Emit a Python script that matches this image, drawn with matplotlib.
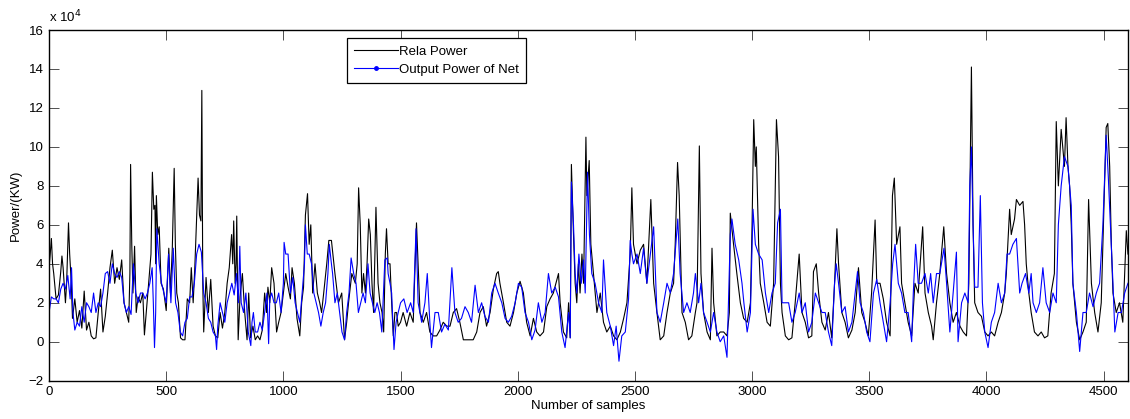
import numpy as np
import matplotlib
matplotlib.use("Agg")
import matplotlib.pyplot as plt
from matplotlib.lines import Line2D

plt.rcParams['font.family'] = ['Liberation Sans', 'DejaVu Sans']

# (sample index, power in 1e4 kW)
rela_power = [
    (0, 3.8), (5, 4.5), (10, 5.3), (15, 4.0), (20, 3.5), (30, 2.2), (40, 2.4), (50, 3.6), (55, 4.4), (60, 3.8),
    (70, 2.0), (75, 3.0), (83, 6.1), (88, 4.5), (95, 3.0), (100, 1.2), (110, 2.2), (120, 1.0), (130, 1.6), (140, 0.7),
    (150, 2.6), (160, 0.6), (170, 1.0), (180, 0.3), (190, 0.15), (200, 0.2), (210, 1.5), (220, 2.7), (230, 0.5), (240, 1.3),
    (250, 2.5), (260, 3.8), (270, 4.7), (280, 3.0), (290, 3.8), (300, 3.2), (310, 4.2), (320, 2.0), (330, 1.5), (340, 1.0),
    (345, 3.5), (348, 9.1), (353, 5.0), (358, 2.5), (365, 4.9), (372, 1.5), (380, 2.3), (390, 2.0), (400, 2.5), (407, 0.35),
    (415, 1.5), (425, 3.0), (435, 4.5), (441, 8.7), (447, 6.8), (452, 7.0), (455, 4.0), (458, 7.5), (464, 5.5), (470, 5.9),
    (478, 3.0), (488, 2.7), (500, 1.6), (511, 4.8), (518, 2.5), (526, 4.8), (534, 8.9), (539, 5.0), (545, 2.5), (552, 2.0),
    (561, 0.2), (570, 0.1), (580, 0.1), (590, 2.2), (600, 2.0), (607, 3.8), (615, 2.0), (622, 3.8), (630, 6.5), (636, 8.4),
    (642, 6.5), (648, 6.2), (652, 12.9), (656, 3.0), (660, 0.5), (670, 3.3), (680, 1.5), (690, 3.2), (700, 0.8), (710, 0.3),
    (720, 0.2), (730, 1.5), (740, 0.7), (750, 1.5), (760, 3.0), (769, 3.8), (779, 5.5), (784, 4.0), (788, 6.2), (794, 3.0),
    (798, 4.0), (801, 6.45), (804, 3.5), (807, 0.1), (815, 2.3), (825, 3.5), (835, 1.5), (845, 0.1), (852, 2.5), (860, 0.2),
    (870, 0.8), (880, 0.1), (890, 0.3), (900, 0.1), (910, 0.6), (920, 2.5), (928, 1.5), (934, 2.8), (942, 2.0), (950, 3.8),
    (960, 3.0), (971, 0.5), (980, 1.0), (990, 1.5), (1000, 2.5), (1010, 3.5), (1020, 2.8), (1030, 2.2), (1037, 3.8), (1047, 3.0),
    (1058, 1.2), (1070, 0.3), (1078, 2.0), (1086, 2.8), (1094, 6.5), (1103, 7.6), (1110, 5.0), (1117, 6.0), (1125, 2.5), (1135, 4.0),
    (1145, 2.5), (1155, 2.0), (1163, 1.5), (1172, 2.5), (1185, 4.0), (1194, 5.2), (1205, 5.2), (1220, 3.5), (1235, 2.0), (1249, 2.5),
    (1261, 0.1), (1270, 1.0), (1278, 2.0), (1292, 3.5), (1307, 3.0), (1315, 4.0), (1321, 7.9), (1328, 6.0), (1335, 2.5), (1342, 3.5),
    (1350, 2.5), (1357, 4.0), (1364, 6.3), (1371, 5.5), (1378, 3.0), (1385, 1.5), (1395, 6.9), (1404, 3.0), (1412, 2.0), (1421, 1.5),
    (1428, 0.5), (1435, 4.5), (1440, 5.8), (1447, 4.0), (1455, 4.0), (1462, 2.0), (1469, 0.3), (1476, 1.5), (1483, 1.5), (1490, 0.8),
    (1500, 1.0), (1511, 1.5), (1526, 0.8), (1540, 1.5), (1554, 1.0), (1568, 6.1), (1575, 3.9), (1583, 1.5), (1597, 1.0), (1611, 1.5),
    (1625, 0.5), (1639, 0.3), (1654, 0.3), (1668, 0.6), (1682, 1.0), (1697, 0.8), (1711, 0.8), (1725, 1.5), (1739, 1.7), (1753, 1.0),
    (1768, 0.1), (1782, 0.1), (1796, 0.1), (1810, 0.1), (1825, 0.5), (1839, 1.5), (1853, 1.8), (1867, 0.8), (1882, 1.5), (1896, 2.7),
    (1910, 3.5), (1917, 3.6), (1924, 3.0), (1939, 2.0), (1953, 1.0), (1967, 0.8), (1982, 1.5), (1996, 2.5), (2010, 3.1), (2024, 2.5),
    (2038, 1.0), (2053, 0.3), (2067, 1.2), (2081, 0.5), (2095, 0.3), (2110, 0.5), (2124, 1.8), (2138, 2.2), (2152, 2.5), (2174, 3.5),
    (2181, 2.0), (2195, 0.5), (2209, 0.2), (2217, 2.0), (2224, 0.2), (2229, 9.1), (2238, 5.5), (2245, 3.0), (2252, 2.0), (2259, 4.0),
    (2266, 2.5), (2274, 4.5), (2281, 3.0), (2291, 10.5), (2295, 7.5), (2305, 9.3), (2312, 5.0), (2323, 3.5), (2338, 1.5), (2352, 2.5),
    (2366, 1.0), (2380, 0.5), (2395, 0.8), (2409, 0.3), (2423, 0.1), (2438, 0.5), (2452, 1.2), (2466, 2.0), (2480, 4.5), (2487, 7.9),
    (2494, 5.0), (2509, 4.0), (2523, 4.7), (2537, 5.0), (2551, 3.0), (2568, 7.3), (2580, 3.0), (2594, 1.5), (2608, 0.1), (2623, 0.3),
    (2637, 1.5), (2651, 2.5), (2665, 3.0), (2672, 5.0), (2682, 9.2), (2689, 7.5), (2701, 1.5), (2715, 1.0), (2729, 0.1), (2743, 0.3),
    (2758, 1.5), (2765, 2.0), (2775, 10.05), (2782, 3.5), (2793, 1.5), (2808, 0.5), (2822, 0.1), (2829, 4.8), (2836, 2.0), (2850, 0.3),
    (2864, 0.5), (2879, 0.5), (2893, 0.3), (2903, 1.5), (2907, 6.6), (2921, 5.0), (2935, 3.5), (2950, 2.0), (2964, 1.2), (2979, 1.0),
    (2993, 2.0), (3000, 6.0), (3007, 11.4), (3014, 9.0), (3018, 10.0), (3028, 5.0), (3035, 3.0), (3050, 2.0), (3064, 1.0), (3078, 0.8),
    (3092, 3.0), (3099, 8.0), (3104, 11.4), (3113, 9.5), (3121, 3.0), (3128, 1.5), (3142, 0.3), (3156, 0.1), (3170, 0.2), (3184, 2.0),
    (3201, 4.5), (3213, 1.5), (3227, 1.0), (3241, 0.2), (3255, 0.3), (3262, 3.6), (3274, 4.0), (3284, 2.5), (3298, 1.0), (3312, 0.6),
    (3326, 1.5), (3340, 0.2), (3352, 3.0), (3362, 5.8), (3369, 4.0), (3383, 1.5), (3397, 1.0), (3411, 0.2), (3426, 0.6), (3440, 1.5),
    (3454, 3.8), (3468, 1.5), (3482, 1.0), (3496, 0.3), (3510, 2.5), (3525, 6.25), (3532, 3.0), (3546, 3.0), (3560, 2.2), (3574, 1.0),
    (3589, 0.3), (3599, 7.5), (3607, 8.4), (3617, 5.0), (3631, 5.9), (3638, 3.0), (3652, 2.0), (3666, 1.0), (3681, 0.3), (3695, 3.0),
    (3709, 2.5), (3728, 5.9), (3738, 2.5), (3752, 1.5), (3766, 0.8), (3773, 0.1), (3787, 2.0), (3801, 3.5), (3818, 5.9), (3830, 3.5),
    (3844, 2.0), (3858, 1.0), (3872, 1.5), (3887, 0.8), (3901, 0.5), (3915, 0.3), (3925, 3.0), (3929, 7.0), (3936, 14.1), (3943, 6.0),
    (3950, 2.0), (3964, 1.5), (3979, 1.3), (3993, 0.5), (4007, 0.3), (4021, 0.5), (4035, 0.3), (4050, 1.0), (4064, 1.5), (4078, 2.5),
    (4085, 3.5), (4099, 6.8), (4106, 5.5), (4120, 6.3), (4128, 7.3), (4142, 7.0), (4156, 7.2), (4163, 6.0), (4170, 4.0), (4181, 2.5),
    (4191, 1.5), (4205, 0.5), (4220, 0.3), (4234, 0.5), (4248, 0.2), (4262, 0.3), (4276, 2.5), (4290, 3.5), (4298, 11.3), (4307, 8.0),
    (4319, 10.9), (4333, 9.0), (4340, 11.5), (4348, 9.0), (4355, 8.0), (4362, 6.0), (4369, 3.0), (4384, 1.0), (4398, 0.1), (4412, 0.5),
    (4426, 1.0), (4436, 7.3), (4448, 3.0), (4462, 1.5), (4476, 0.5), (4490, 2.0), (4504, 8.0), (4511, 11.0), (4518, 11.2), (4526, 9.0),
    (4533, 5.0), (4540, 2.5), (4554, 1.5), (4568, 2.0), (4582, 1.0), (4597, 5.7), (4604, 4.5),
]

net_power = [
    (0, 1.5), (10, 2.3), (20, 2.2), (30, 2.2), (40, 2.0), (50, 2.7), (60, 3.0), (70, 2.7), (80, 3.4), (90, 2.2),
    (96, 3.8), (102, 1.5), (110, 0.6), (120, 1.0), (130, 0.8), (140, 1.8), (150, 1.0), (160, 2.0), (170, 1.8), (180, 1.5),
    (190, 2.5), (200, 1.5), (210, 2.0), (220, 1.8), (230, 2.5), (240, 3.5), (250, 3.6), (260, 3.0), (270, 4.0), (280, 3.5),
    (290, 3.3), (300, 3.6), (310, 3.3), (320, 2.0), (330, 1.5), (340, 1.8), (350, 1.4), (360, 4.0), (370, 2.5), (380, 2.0),
    (390, 2.5), (400, 2.5), (410, 2.2), (420, 2.5), (430, 3.0), (440, 3.8), (445, 2.0), (450, -0.3), (455, 1.5), (460, 5.8),
    (470, 4.0), (480, 3.0), (490, 2.5), (500, 2.0), (510, 4.5), (520, 2.0), (530, 4.8), (540, 2.0), (550, 1.5), (560, 0.5),
    (570, 0.3), (580, 1.0), (590, 1.2), (600, 2.3), (610, 2.3), (620, 3.0), (630, 4.5), (640, 5.0), (650, 4.6), (660, 2.5),
    (670, 2.0), (680, 1.2), (690, 1.0), (700, 0.5), (710, 0.3), (715, -0.4), (720, 0.8), (730, 2.0), (740, 1.5), (750, 1.0),
    (760, 2.0), (770, 2.5), (780, 3.0), (790, 2.4), (800, 3.5), (808, 2.0), (814, 4.9), (820, 2.0), (830, 1.5), (840, 2.5),
    (850, 0.5), (861, -0.2), (866, 1.0), (872, 1.5), (880, 0.5), (890, 0.5), (900, 1.0), (910, 0.6), (920, 1.5), (930, 2.5),
    (937, -0.1), (942, 2.2), (950, 2.5), (960, 2.0), (970, 2.0), (980, 2.5), (990, 1.5), (1000, 3.0), (1003, 5.1), (1010, 4.5),
    (1020, 4.5), (1030, 2.5), (1040, 3.3), (1050, 2.0), (1060, 1.5), (1070, 1.0), (1080, 2.5), (1090, 4.0), (1094, 6.0), (1102, 4.5),
    (1110, 4.5), (1120, 4.0), (1130, 2.5), (1140, 2.0), (1150, 1.5), (1160, 0.8), (1170, 1.5), (1180, 2.0), (1190, 3.5), (1196, 5.0),
    (1205, 4.0), (1210, 3.5), (1220, 2.0), (1230, 2.5), (1240, 1.5), (1250, 0.5), (1261, 0.1), (1270, 1.5), (1280, 2.5), (1289, 4.3),
    (1300, 3.5), (1310, 3.0), (1320, 1.5), (1330, 2.0), (1340, 2.5), (1350, 2.0), (1361, 4.0), (1370, 2.5), (1380, 2.0), (1390, 1.5),
    (1400, 2.0), (1410, 1.5), (1420, 0.5), (1433, 4.2), (1443, 4.3), (1447, 3.5), (1455, 3.0), (1462, 2.5), (1472, -0.4), (1481, 1.0),
    (1490, 1.5), (1500, 2.0), (1514, 2.2), (1528, 1.5), (1543, 2.0), (1554, 1.5), (1566, 5.8), (1575, 2.0), (1590, 1.0), (1604, 2.0),
    (1614, 3.5), (1625, 1.0), (1632, -0.3), (1647, 1.5), (1661, 1.5), (1675, 0.5), (1689, 0.9), (1704, 0.6), (1719, 3.8), (1732, 1.5),
    (1746, 1.0), (1760, 1.2), (1775, 1.8), (1789, 1.5), (1803, 1.0), (1818, 2.9), (1832, 1.5), (1846, 2.0), (1860, 1.3), (1875, 1.0),
    (1889, 2.5), (1903, 3.0), (1917, 2.5), (1932, 2.0), (1946, 1.2), (1960, 1.0), (1974, 1.3), (1989, 2.0), (2003, 3.0), (2017, 2.8),
    (2031, 1.5), (2046, 1.0), (2060, 0.1), (2074, 0.6), (2088, 2.0), (2103, 1.0), (2117, 1.5), (2131, 3.5), (2145, 2.5), (2160, 2.8),
    (2174, 2.3), (2188, 0.5), (2202, -0.3), (2217, 1.5), (2224, 0.2), (2229, 8.2), (2238, 6.0), (2245, 3.5), (2252, 2.5), (2261, 4.5),
    (2271, 3.0), (2281, 4.2), (2288, 2.5), (2298, 8.7), (2306, 5.5), (2316, 3.5), (2330, 3.0), (2345, 2.0), (2359, 1.5), (2366, 4.2),
    (2380, 1.5), (2395, 0.8), (2409, -0.2), (2420, 0.8), (2432, -1.0), (2444, 0.3), (2459, 0.5), (2473, 2.2), (2480, 5.2), (2487, 4.5),
    (2494, 4.0), (2509, 4.5), (2523, 3.5), (2537, 4.8), (2551, 3.0), (2566, 4.5), (2580, 5.9), (2594, 1.5), (2608, 1.0), (2623, 2.0),
    (2637, 3.0), (2651, 2.5), (2665, 3.5), (2683, 6.3), (2693, 3.5), (2708, 1.5), (2722, 2.0), (2736, 1.5), (2750, 2.5), (2758, 3.5),
    (2772, 2.0), (2782, 3.0), (2793, 1.5), (2808, 1.0), (2822, 0.5), (2836, 1.5), (2850, 0.5), (2864, 0.0), (2879, 0.3), (2893, -0.8),
    (2907, 5.5), (2914, 6.3), (2928, 5.0), (2943, 4.2), (2957, 3.0), (2965, 2.0), (2979, 0.5), (2993, 1.5), (3004, 6.8), (3014, 5.0),
    (3028, 4.5), (3043, 4.2), (3057, 2.5), (3071, 1.5), (3085, 2.5), (3099, 3.0), (3109, 6.1), (3121, 6.8), (3128, 2.0), (3142, 2.0),
    (3156, 2.0), (3170, 1.0), (3184, 1.5), (3201, 2.5), (3213, 1.5), (3227, 2.0), (3241, 0.5), (3255, 1.0), (3270, 2.5), (3284, 2.0),
    (3298, 1.5), (3312, 1.5), (3326, 0.5), (3340, -0.2), (3352, 3.0), (3359, 4.0), (3369, 3.0), (3383, 1.5), (3397, 1.8), (3411, 0.5),
    (3426, 1.0), (3440, 2.5), (3450, 3.6), (3461, 2.0), (3475, 1.5), (3489, 0.5), (3503, 0.0), (3518, 2.5), (3532, 3.2), (3546, 2.0),
    (3560, 1.0), (3574, 0.0), (3589, 2.0), (3600, 4.0), (3610, 5.0), (3624, 3.0), (3638, 2.5), (3652, 1.5), (3666, 1.5), (3681, 0.0),
    (3688, 2.5), (3698, 5.0), (3709, 3.0), (3723, 3.0), (3738, 3.5), (3752, 2.5), (3762, 3.5), (3773, 2.0), (3787, 3.5), (3801, 3.5),
    (3819, 4.8), (3830, 3.0), (3844, 0.5), (3858, 2.5), (3872, 4.6), (3879, 0.0), (3894, 2.0), (3908, 2.5), (3922, 2.0), (3929, 8.0),
    (3936, 10.0), (3943, 6.0), (3950, 2.8), (3964, 2.8), (3974, 7.5), (3983, 2.0), (3993, 0.5), (4007, -0.3), (4021, 1.0), (4035, 1.5),
    (4050, 3.0), (4064, 2.0), (4078, 2.5), (4088, 4.5), (4099, 4.5), (4113, 5.0), (4128, 5.3), (4142, 2.5), (4152, 3.0), (4167, 3.5),
    (4181, 2.5), (4191, 3.5), (4199, 2.0), (4213, 1.5), (4227, 2.0), (4241, 3.8), (4255, 2.0), (4270, 1.5), (4284, 2.5), (4298, 2.0),
    (4307, 6.0), (4319, 8.0), (4333, 9.5), (4348, 9.0), (4362, 7.0), (4369, 3.0), (4384, 1.5), (4398, -0.5), (4412, 1.5), (4426, 1.5),
    (4440, 2.5), (4455, 1.8), (4469, 2.5), (4483, 3.0), (4497, 6.0), (4511, 10.6), (4520, 8.5), (4533, 5.0), (4540, 3.0), (4548, 0.5),
    (4562, 1.5), (4576, 1.5), (4590, 2.5), (4604, 3.0),
]

x_ticks = [0, 500, 1000, 1500, 2000, 2500, 3000, 3500, 4000, 4500]
y_ticks = [-2, 0, 2, 4, 6, 8, 10, 12, 14, 16]

rela = np.array(rela_power)
net = np.array(net_power)

fs = 9.5
fig = plt.figure(figsize=(11.3, 4.19), dpi=100)
ax = fig.add_axes([0.0434, 0.0914, 0.955, 0.837])

ax.plot(rela[:, 0], rela[:, 1], color='k', lw=0.8)
ax.plot(net[:, 0], net[:, 1], color=(0, 0, 1), lw=0.8)

ax.set_xlim(0, 4605)
ax.set_ylim(-2, 16)
ax.set_xticks(x_ticks)
ax.set_yticks(y_ticks)
ax.tick_params(direction='in', top=True, right=True, length=7, width=0.6,
               labelsize=fs, pad=4, color='#333333')
for s in ax.spines.values():
    s.set_linewidth(1.0)

ax.text(0.0, 1.012, r'x 10$^{4}$', transform=ax.transAxes, fontsize=fs,
        ha='left', va='bottom')
ax.set_xlabel('Number of samples', fontsize=fs, labelpad=1)
ax.set_ylabel('Power/(KW)', fontsize=fs, labelpad=5)

handles = [Line2D([], [], color='k', lw=0.8),
           Line2D([], [], color=(0, 0, 1), lw=0.8, marker='.', markersize=5)]
leg = ax.legend(handles, ['Rela Power', 'Output Power of Net'], loc='upper left',
                bbox_to_anchor=(0.276, 0.977), borderaxespad=0, fancybox=False,
                edgecolor='k', framealpha=1, fontsize=fs, handlelength=3.3,
                handletextpad=0.1, borderpad=0.55, labelspacing=0.45)
leg.get_frame().set_linewidth(0.9)

fig.savefig('out.png', dpi=100)
